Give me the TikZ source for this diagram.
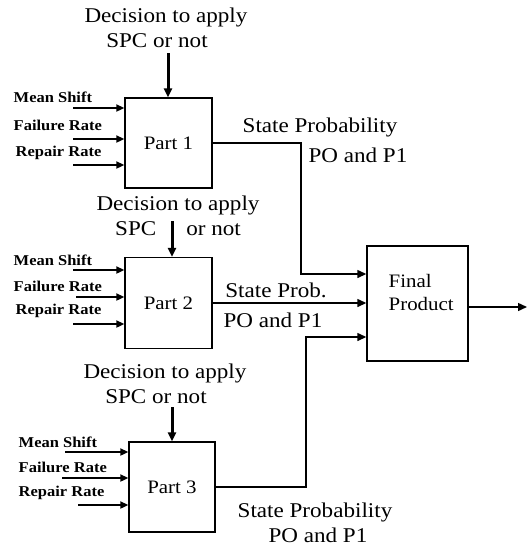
\documentclass[tikz,border=0pt]{standalone}
\usepackage{fontspec}
\setmainfont[FakeStretch=1.1]{Liberation Serif}
\usetikzlibrary{arrows.meta}

\begin{document}
\begin{tikzpicture}[x=1pt, y=-1pt, line width=1.4pt,
      box/.style={draw, line width=1.4pt, font=\fontsize{19}{21}\selectfont},
      lbl/.style={font=\fontsize{21}{25}\selectfont, align=center, inner sep=0pt},
      inlbl/.style={font=\bfseries\fontsize{15}{17}\selectfont, anchor=west, inner sep=0pt},
      inarr/.style={-{Triangle[length=8pt,width=7pt]}, line width=2.4pt},
      decarr/.style={-{Triangle[length=9pt,width=8pt]}, line width=3pt},
      outarr/.style={-{Triangle[length=9pt,width=8pt]}, line width=1.4pt}]

    \useasboundingbox (0,0) rectangle (527,550);

    % === boxes ===
    \node[box, minimum width=87pt, minimum height=90pt] (p1) at (168.5,143)   {Part 1};
    \node[box, minimum width=87pt, minimum height=91pt] (p2) at (168.5,303)   {Part 2};
    \node[box, minimum width=86pt, minimum height=90pt] (p3) at (172,487)     {Part 3};
    \node[box, minimum width=101pt, minimum height=115pt] (fp) at (417.5,303.5) {};
    \node[lbl, align=left, anchor=west, font=\fontsize{19}{23}\selectfont] (fptxt) at (388,292) {Final\\Product};

    % === Part 1 ===
    \node[lbl] (dec1) at (166,28) {Decision to apply\\SPC or not\hspace*{18pt}};
    \coordinate (d1) at (168,53);
    \draw[decarr] (d1) -- (d1 |- p1.north);
    \node[inlbl] (ms1) at (13,97)  {Mean Shift};
    \node[inlbl] (fr1) at (13,125) {Failure Rate};
    \node[inlbl] (rr1) at (15,153) {Repair Rate};
    \coordinate (ms1a) at (73,108);
    \coordinate (fr1a) at (73,139);
    \coordinate (rr1a) at (73,165);
    \draw[inarr] (ms1a) -- (ms1a -| p1.west);
    \draw[inarr] (fr1a) -- (fr1a -| p1.west);
    \draw[inarr] (rr1a) -- (rr1a -| p1.west);
    \node[lbl] (sp1a) at (320,127) {State Probability};
    \node[lbl] (sp1b) at (358,155) {PO and P1};

    % === Part 2 ===
    \node[lbl] (dec2) at (178,216) {Decision to apply\\SPC\hspace{30pt}or not};
    \coordinate (d2) at (172,221);
    \draw[decarr] (d2) -- (d2 |- p2.north);
    \node[inlbl] (ms2) at (13,260) {Mean Shift};
    \node[inlbl] (fr2) at (13,286) {Failure Rate};
    \node[inlbl] (rr2) at (15,311) {Repair Rate};
    \coordinate (ms2a) at (73,270);
    \coordinate (fr2a) at (76,297);
    \coordinate (rr2a) at (73,324);
    \draw[inarr] (ms2a) -- (ms2a -| p2.west);
    \draw[inarr] (fr2a) -- (fr2a -| p2.west);
    \draw[inarr] (rr2a) -- (rr2a -| p2.west);
    \node[lbl] (sp2a) at (276,290) {State Prob.};
    \node[lbl] (sp2b) at (273,320) {PO and P1};

    % === Part 3 ===
    \node[lbl] (dec3) at (165,384) {Decision to apply\\SPC or not\hspace*{18pt}};
    \coordinate (d3) at (172,407);
    \draw[decarr] (d3) -- (d3 |- p3.north);
    \node[inlbl] (ms3) at (18,442) {Mean Shift};
    \node[inlbl] (fr3) at (18,467) {Failure Rate};
    \node[inlbl] (rr3) at (18,493) {Repair Rate};
    \coordinate (ms3a) at (65,452);
    \coordinate (fr3a) at (62,478);
    \coordinate (rr3a) at (78,505);
    \draw[inarr] (ms3a) -- (ms3a -| p3.west);
    \draw[inarr] (fr3a) -- (fr3a -| p3.west);
    \draw[inarr] (rr3a) -- (rr3a -| p3.west);
    \node[lbl] (sp3a) at (315,512) {State Probability};
    \node[lbl] (sp3b) at (318,535) {PO and P1};

    % === to final product ===
    \coordinate (b1) at (301,274);
    \coordinate (b3) at (306,337);
    \coordinate (fout) at (527,307);
    \draw[outarr] (p1.east) -| (b1) -- (b1 -| fp.west);
    \draw[outarr] (p2.east) -- (p2.east -| fp.west);
    \draw[outarr] (p3.east) -| (b3) -- (b3 -| fp.west);
    \draw[outarr] (fp.east |- fout) -- (fout);

    \end{tikzpicture}
\end{document}
